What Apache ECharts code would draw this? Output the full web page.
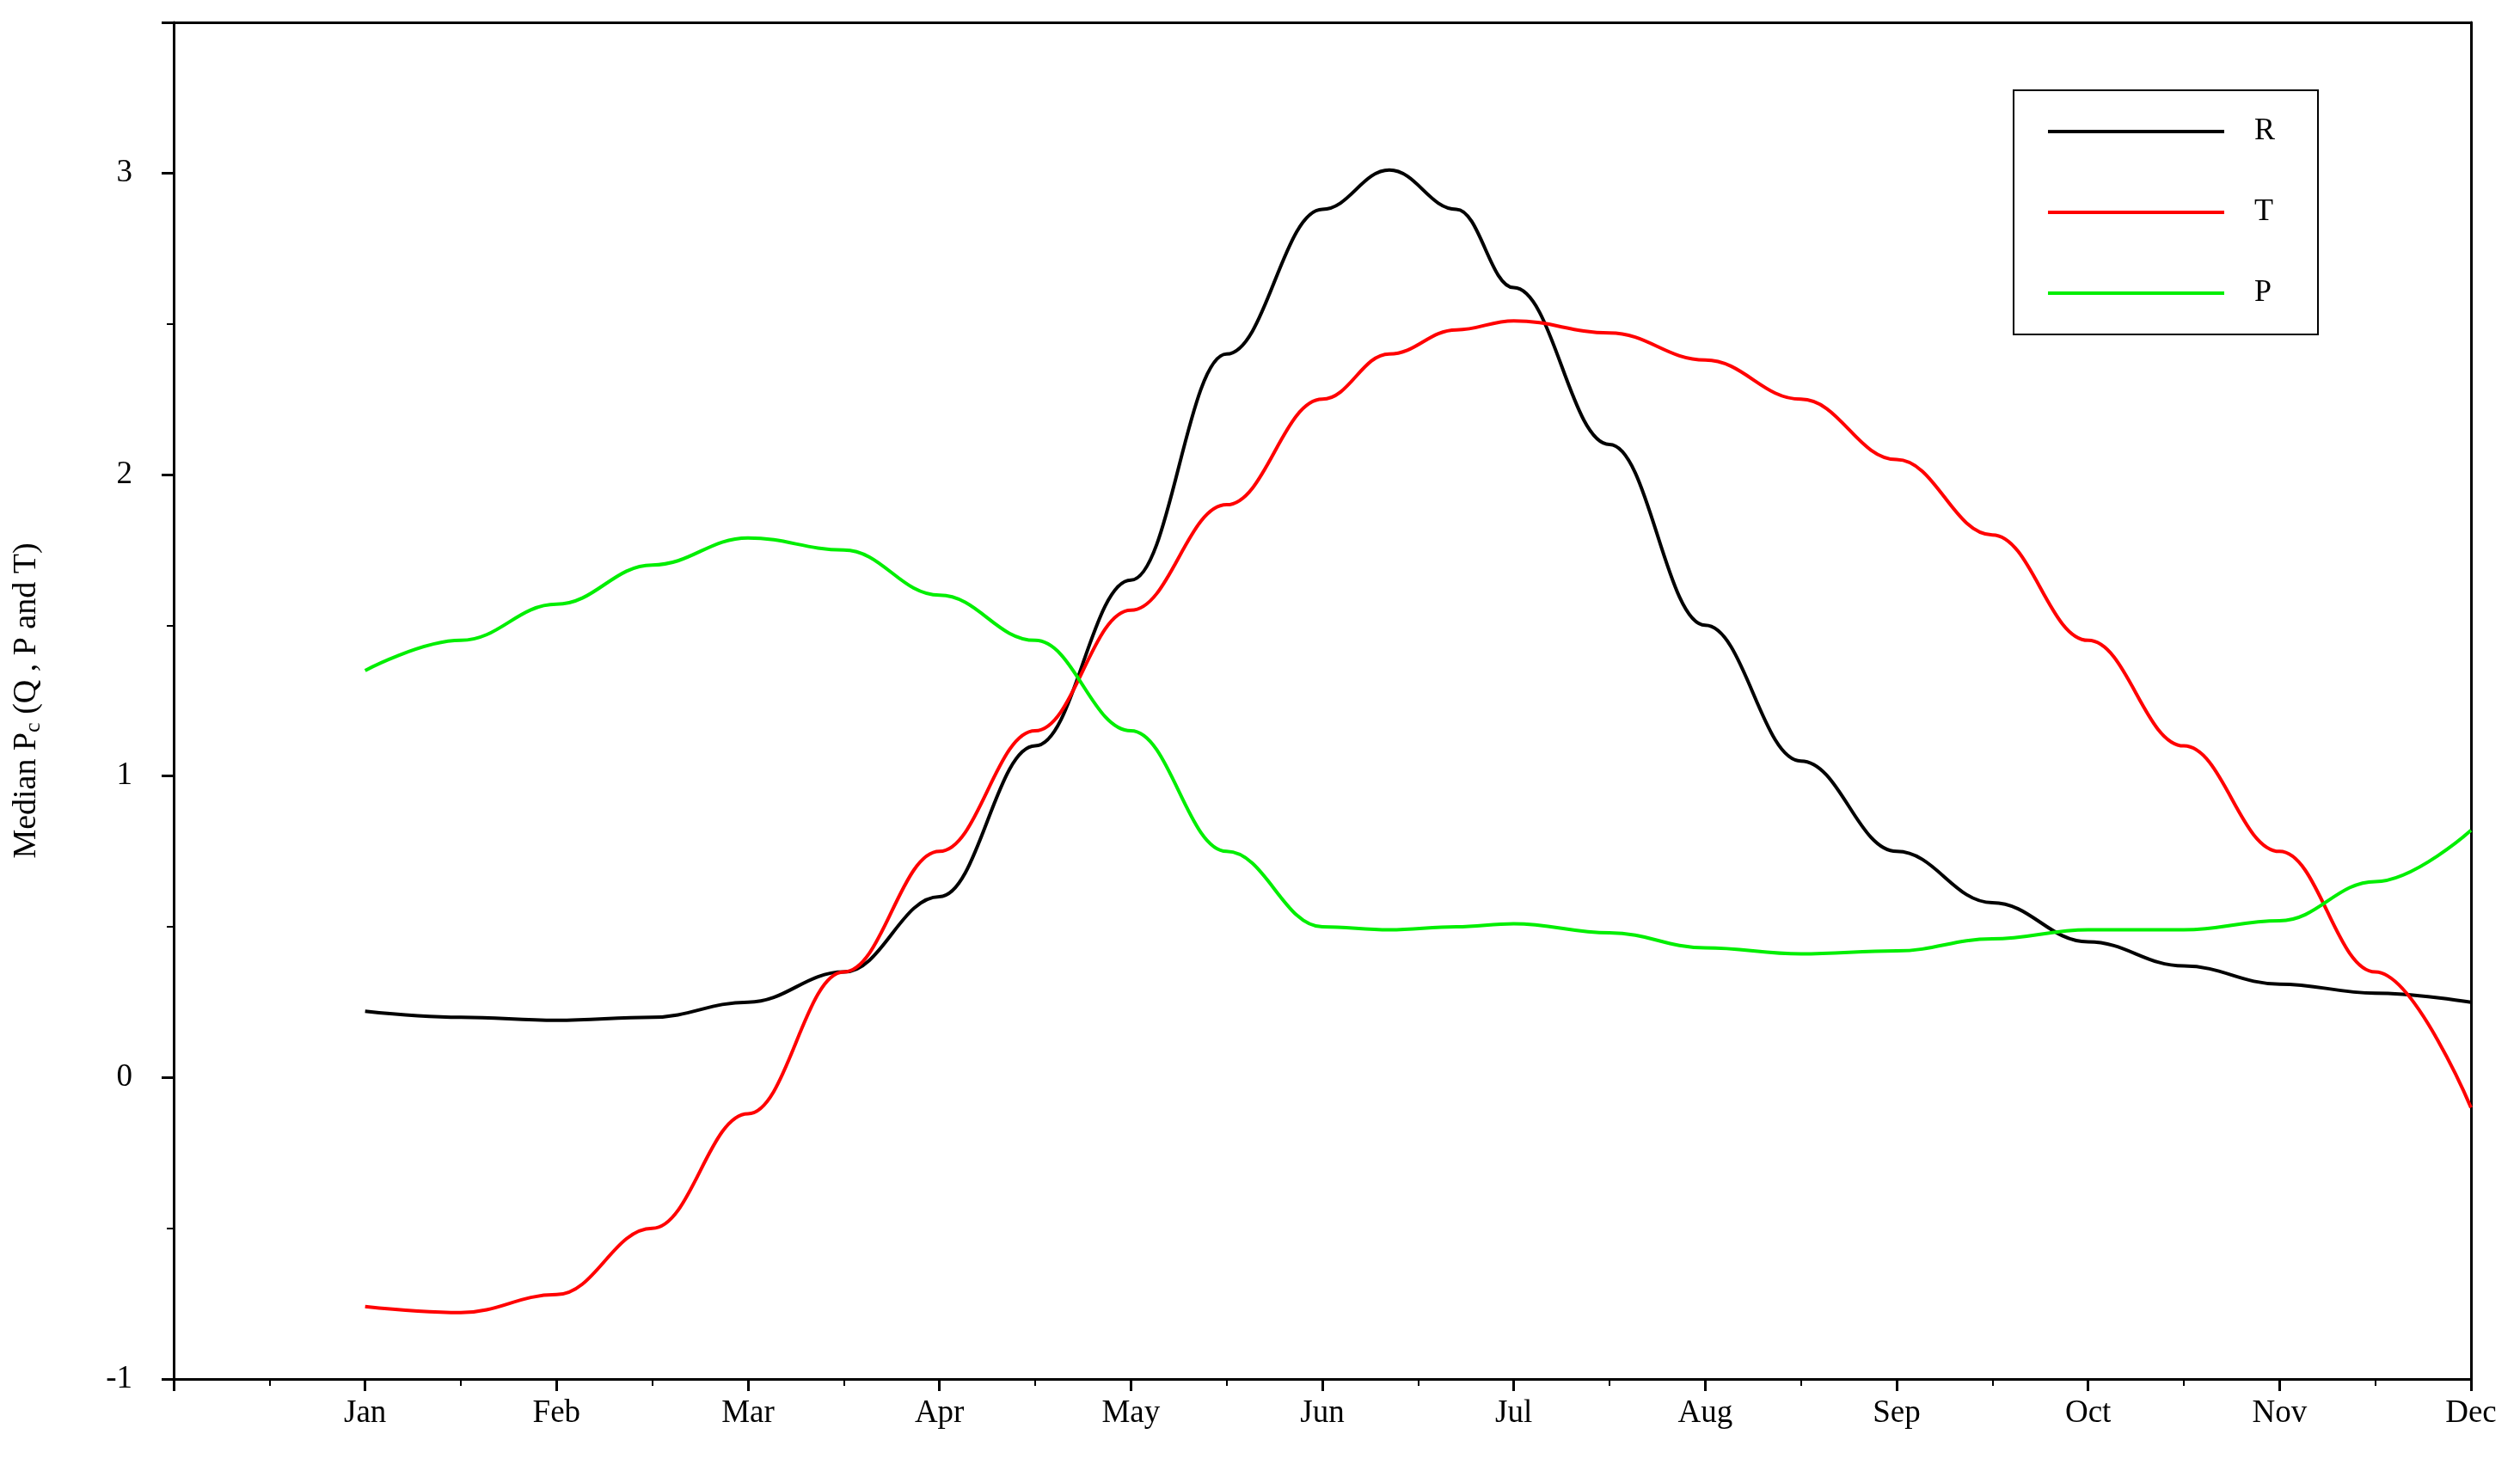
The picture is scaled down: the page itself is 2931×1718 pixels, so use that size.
<!DOCTYPE html>
<html><head><meta charset="utf-8">
<script src="https://cdn.jsdelivr.net/npm/echarts@6/dist/echarts.min.js"></script>
<style>html,body{margin:0;padding:0;background:#fff}#c{width:2931px;height:1718px}</style>
</head><body><div id="c"></div>
<script>
const months=['Jan','Feb','Mar','Apr','May','Jun','Jul','Aug','Sep','Oct','Nov','Dec'];
const xs=[1,1.5,2,2.5,3,3.5,4,4.5,5,5.5,6,6.35,6.7,7,7.5,8,8.5,9,9.5,10,10.5,11,11.5,12];
const R=[0.22,0.2,0.19,0.2,0.25,0.35,0.6,1.1,1.65,2.4,2.88,3.01,2.88,2.62,2.1,1.5,1.05,0.75,0.58,0.45,0.37,0.31,0.28,0.25];
const T=[-0.76,-0.78,-0.72,-0.5,-0.12,0.35,0.75,1.15,1.55,1.9,2.25,2.4,2.48,2.51,2.47,2.38,2.25,2.05,1.8,1.45,1.1,0.75,0.35,-0.1];
const P=[1.35,1.45,1.57,1.7,1.79,1.75,1.6,1.45,1.15,0.75,0.5,0.49,0.5,0.51,0.48,0.43,0.41,0.42,0.46,0.49,0.49,0.52,0.65,0.82];
const pair=a=>xs.map((x,i)=>[x,a[i]]);
const font='Liberation Serif';
const ax={show:true,onZero:false,lineStyle:{color:'#000',width:3}};
const chart=echarts.init(document.getElementById('c'));
chart.setOption({
 animation:false,
 textStyle:{fontFamily:font},
 grid:{left:202,right:57,top:26,bottom:114},
 legend:{right:235,top:105,orient:'vertical',itemWidth:205,itemHeight:4,itemGap:58,padding:[30,50,30,40],
   borderColor:'#000',borderWidth:2,textStyle:{fontFamily:font,fontSize:36,color:'#000',padding:[0,0,0,30]},
   icon:'rect',data:['R','T','P']},
 xAxis:[{type:'value',min:0,max:12,interval:1,axisLine:ax,
   axisTick:{length:14,lineStyle:{color:'#000',width:3}},
   minorTick:{show:true,splitNumber:2,length:8,lineStyle:{color:'#000',width:2}},
   splitLine:{show:false},
   axisLabel:{fontFamily:font,fontSize:37,color:'#000',margin:22,formatter:v=>v>=1?months[v-1]:''}},
  {type:'value',position:'top',min:0,max:12,axisLine:ax,axisTick:{show:false},axisLabel:{show:false},splitLine:{show:false}}],
 yAxis:[{type:'value',min:-1,max:3.5,interval:1,axisLine:ax,
   axisTick:{length:14,lineStyle:{color:'#000',width:3}},
   minorTick:{show:true,splitNumber:2,length:8,lineStyle:{color:'#000',width:2}},
   splitLine:{show:false},
   axisLabel:{fontFamily:font,fontSize:37,color:'#000',margin:48,formatter:v=>Number.isInteger(v)?v:''},
   name:'{a|Median P}{s|c}{a| (Q , P and T)}',nameLocation:'middle',nameGap:150,nameRotate:90,
   nameTextStyle:{rich:{a:{fontFamily:font,fontSize:38,color:'#000'},s:{fontFamily:font,fontSize:26,color:'#000',padding:[16,0,0,0]}}}},
  {type:'value',position:'right',min:-1,max:3.5,axisLine:ax,axisTick:{show:false},axisLabel:{show:false},splitLine:{show:false}}],
 series:[
  {name:'R',type:'line',smooth:0.4,smoothMonotone:'x',symbol:'none',data:pair(R),lineStyle:{color:'#000',width:4},itemStyle:{color:'#000'}},
  {name:'T',type:'line',smooth:0.4,smoothMonotone:'x',symbol:'none',data:pair(T),lineStyle:{color:'#ff0000',width:4},itemStyle:{color:'#ff0000'}},
  {name:'P',type:'line',smooth:0.4,smoothMonotone:'x',symbol:'none',data:pair(P),lineStyle:{color:'#00ee00',width:4},itemStyle:{color:'#00ee00'}}
 ]
});
</script></body></html>
